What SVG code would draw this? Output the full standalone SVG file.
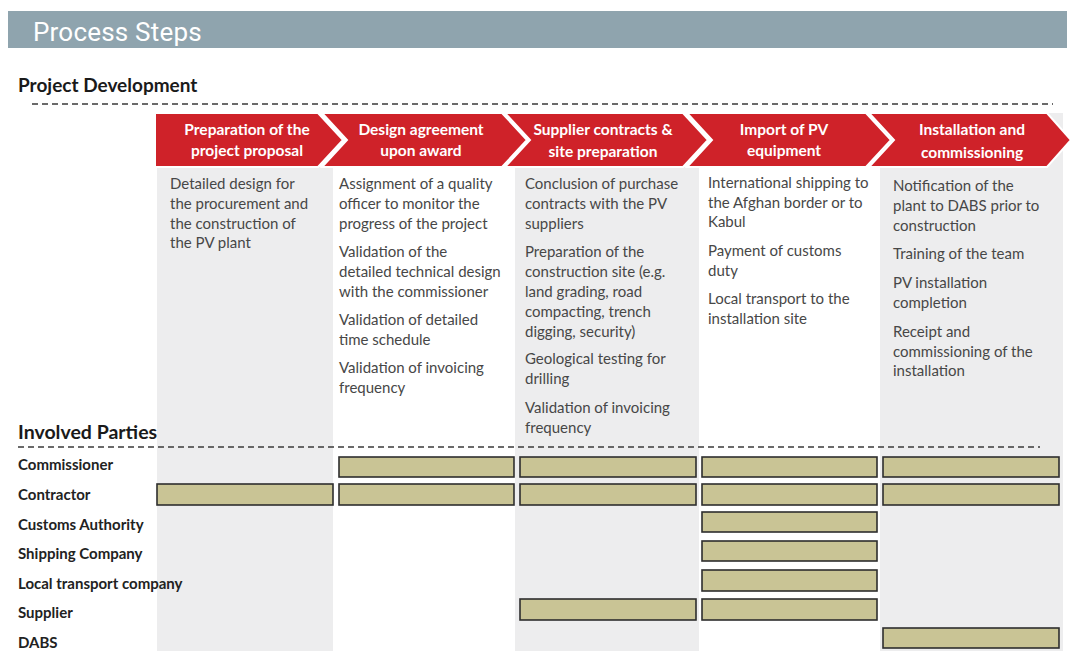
<svg xmlns="http://www.w3.org/2000/svg" width="1072" height="651" viewBox="0 0 1072 651">
<defs>
<style>
.hdr{font-family:Roboto,"Liberation Sans",sans-serif;font-size:26px;fill:#ffffff;letter-spacing:0.2px}
.sec{font-family:Lato,"Liberation Sans",sans-serif;font-weight:bold;fill:#1a1a1a}
.dash{stroke:#3a3a3a;stroke-width:1.5;stroke-dasharray:6 4;fill:none}
.chev{fill:#cf2229;stroke:#ffffff;stroke-width:2}
.ct{font-family:Lato,"Liberation Sans",sans-serif;font-weight:bold;font-size:15.5px;fill:#ffffff;text-anchor:middle}
.col{fill:#ededee}
.bt{font-family:Lato,"Liberation Sans",sans-serif;font-size:15px;fill:#474747}
.pl{font-family:Lato,"Liberation Sans",sans-serif;font-weight:bold;font-size:15px;fill:#222222}
.bar{fill:#c9c495;stroke:#2e2e2e;stroke-width:1.6}
</style>
</defs>
<rect x="0" y="0" width="1072" height="651" fill="#ffffff"/>
<g id="header">
<rect x="8" y="11" width="1059" height="37" fill="#8fa4ae"/>
<text class="hdr" x="33" y="41">Process Steps</text>
</g>
<g id="backgrounds">
<rect class="col" x="157" y="167" width="176" height="484"/>
<rect class="col" x="515" y="167" width="184" height="484"/>
<rect class="col" x="880" y="113" width="183" height="538"/>
</g>
<g id="section-labels">
<text class="sec" x="18" y="92" font-size="19">Project Development</text>
<line class="dash" x1="32" y1="104" x2="1053" y2="104"/>
<text class="sec" x="18" y="439" font-size="19.5">Involved Parties</text>
<line class="dash" x1="18" y1="447" x2="1040" y2="447"/>
</g>
<g id="step1">
<polygon class="chev" points="155,113 318,113 343,140 318,167 155,167"/>
<text class="ct" x="247" y="135">Preparation of the</text>
<text class="ct" x="247" y="156">project proposal</text>
<g class="bt"><text x="170" y="189">Detailed design for</text><text x="170" y="209">the procurement and</text><text x="170" y="229">the construction of</text><text x="170" y="248">the PV plant</text></g>
</g>
<g id="step2">
<polygon class="chev" points="322,113 502,113 527,140 502,167 322,167 347,140"/>
<text class="ct" x="421" y="135">Design agreement</text>
<text class="ct" x="421" y="156">upon award</text>
<g class="bt"><text x="339" y="189">Assignment of a quality</text><text x="339" y="209">officer to monitor the</text><text x="339" y="229">progress of the project</text><text x="339" y="257">Validation of the</text><text x="339" y="277">detailed technical design</text><text x="339" y="297">with the commissioner</text><text x="339" y="325">Validation of detailed</text><text x="339" y="345">time schedule</text><text x="339" y="373">Validation of invoicing</text><text x="339" y="393">frequency</text></g>
</g>
<g id="step3">
<polygon class="chev" points="505,113 683,113 708,140 683,167 505,167 530,140"/>
<text class="ct" x="603" y="135">Supplier contracts &amp;</text>
<text class="ct" x="603" y="157">site preparation</text>
<g class="bt"><text x="525" y="189">Conclusion of purchase</text><text x="525" y="209">contracts with the PV</text><text x="525" y="229">suppliers</text><text x="525" y="257">Preparation of the</text><text x="525" y="277">construction site (e.g.</text><text x="525" y="297">land grading, road</text><text x="525" y="317">compacting, trench</text><text x="525" y="337">digging, security)</text><text x="525" y="364">Geological testing for</text><text x="525" y="384">drilling</text><text x="525" y="413">Validation of invoicing</text><text x="525" y="433">frequency</text></g>
</g>
<g id="step4">
<polygon class="chev" points="687,113 866,113 891,140 866,167 687,167 712,140"/>
<text class="ct" x="784" y="135">Import of PV</text>
<text class="ct" x="784" y="156">equipment</text>
<g class="bt"><text x="708" y="188">International shipping to</text><text x="708" y="208">the Afghan border or to</text><text x="708" y="227">Kabul</text><text x="708" y="256">Payment of customs</text><text x="708" y="276">duty</text><text x="708" y="304">Local transport to the</text><text x="708" y="324">installation site</text></g>
</g>
<g id="step5">
<polygon class="chev" points="869,113 1047,113 1071,140 1047,167 869,167 894,140"/>
<text class="ct" x="972" y="135">Installation and</text>
<text class="ct" x="972" y="158">commissioning</text>
<g class="bt"><text x="893" y="191">Notification of the</text><text x="893" y="211">plant to DABS prior to</text><text x="893" y="231">construction</text><text x="893" y="259">Training of the team</text><text x="893" y="288">PV installation</text><text x="893" y="308">completion</text><text x="893" y="337">Receipt and</text><text x="893" y="357">commissioning of the</text><text x="893" y="376">installation</text></g>
</g>
<g id="party-commissioner">
<text class="pl" x="18" y="470">Commissioner</text>
<rect class="bar" x="339" y="457" width="175" height="20"/>
<rect class="bar" x="520" y="457" width="176" height="20"/>
<rect class="bar" x="702" y="457" width="175" height="20"/>
<rect class="bar" x="883" y="457" width="176" height="20"/>
</g>
<g id="party-contractor">
<text class="pl" x="18" y="500">Contractor</text>
<rect class="bar" x="157" y="484" width="176" height="21"/>
<rect class="bar" x="339" y="484" width="175" height="21"/>
<rect class="bar" x="520" y="484" width="176" height="21"/>
<rect class="bar" x="702" y="484" width="175" height="21"/>
<rect class="bar" x="883" y="484" width="176" height="21"/>
</g>
<g id="party-customs">
<text class="pl" x="18" y="530">Customs Authority</text>
<rect class="bar" x="702" y="512" width="175" height="20"/>
</g>
<g id="party-shipping">
<text class="pl" x="18" y="559">Shipping Company</text>
<rect class="bar" x="702" y="541" width="175" height="20"/>
</g>
<g id="party-local">
<text class="pl" x="18" y="589">Local transport company</text>
<rect class="bar" x="702" y="570" width="175" height="21"/>
</g>
<g id="party-supplier">
<text class="pl" x="18" y="618">Supplier</text>
<rect class="bar" x="520" y="599" width="176" height="21"/>
<rect class="bar" x="702" y="599" width="175" height="21"/>
</g>
<g id="party-dabs">
<text class="pl" x="18" y="648">DABS</text>
<rect class="bar" x="883" y="628" width="176" height="20"/>
</g>
<g id="connectors"></g>
</svg>
